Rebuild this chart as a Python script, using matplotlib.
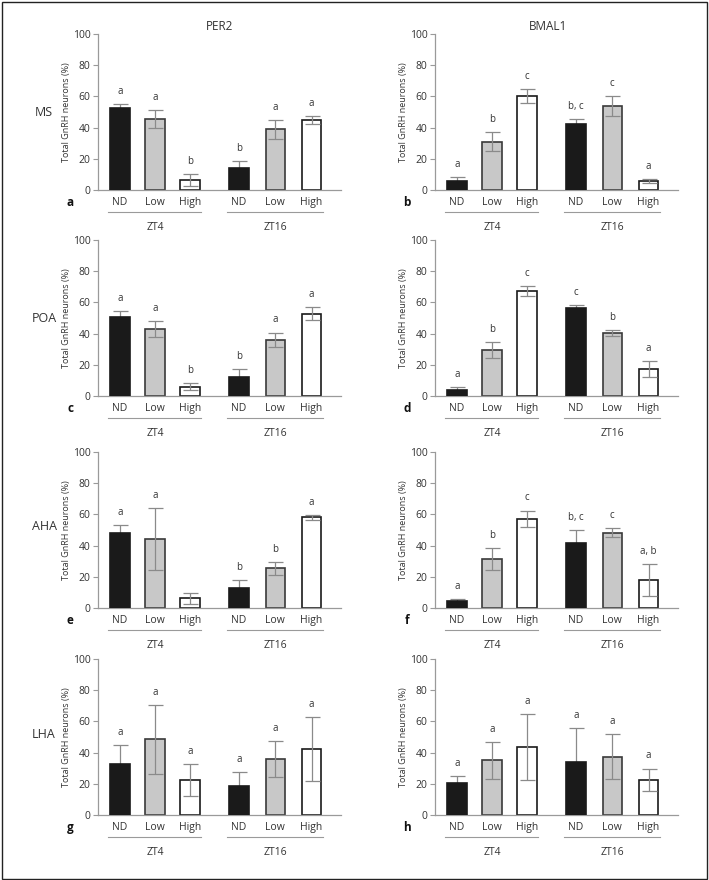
import matplotlib
matplotlib.use('Agg')
import matplotlib.pyplot as plt
from matplotlib.patches import Rectangle

plt.rcParams['font.family'] = ['Open Sans', 'DejaVu Sans']

# ---------------- data ----------------
bar_labels = ['ND', 'Low', 'High', 'ND', 'Low', 'High']
timepoints = ['ZT4', 'ZT16']
regions = ['MS', 'POA', 'AHA', 'LHA']
genes = ['PER2', 'BMAL1']
panel_letters = [['a', 'b'], ['c', 'd'], ['e', 'f'], ['g', 'h']]
y_ticks = [0, 20, 40, 60, 80, 100]

per2_ms = [52.5, 45.5, 6.2, 14.0, 39.0, 45.0]
per2_ms_err = [2.7, 6.0, 3.8, 4.7, 6.0, 2.5]
per2_ms_sig = ['a', 'a', 'b', 'b', 'a', 'a']

bmal1_ms = [5.8, 31.0, 60.0, 42.0, 54.0, 5.8]
bmal1_ms_err = [2.4, 6.3, 4.5, 3.4, 6.5, 1.5]
bmal1_ms_sig = ['a', 'b', 'c', 'b, c', 'c', 'a']

per2_poa = [50.6, 43.0, 5.9, 11.9, 36.2, 52.8]
per2_poa_err = [3.8, 5.0, 2.3, 5.3, 4.5, 4.0]
per2_poa_sig = ['a', 'a', 'b', 'b', 'a', 'a']

bmal1_poa = [4.0, 29.4, 67.2, 56.1, 40.3, 17.2]
bmal1_poa_err = [1.5, 5.0, 3.3, 2.1, 2.0, 5.0]
bmal1_poa_sig = ['a', 'b', 'c', 'c', 'b', 'a']

per2_aha = [48.2, 44.4, 6.3, 13.1, 25.4, 58.1]
per2_aha_err = [5.0, 20.0, 3.5, 4.6, 4.0, 1.6]
per2_aha_sig = ['a', 'a', '', 'b', 'b', 'a']

bmal1_aha = [4.2, 31.6, 57.1, 41.8, 48.2, 18.0]
bmal1_aha_err = [1.3, 7.0, 5.4, 8.5, 2.8, 10.0]
bmal1_aha_sig = ['a', 'b', 'c', 'b, c', 'c', 'a, b']

per2_lha = [33.0, 48.5, 22.4, 18.6, 36.0, 42.3]
per2_lha_err = [12.0, 22.0, 10.4, 9.0, 11.5, 20.4]
per2_lha_sig = ['a', 'a', 'a', 'a', 'a', 'a']

bmal1_lha = [20.2, 35.0, 43.7, 33.8, 37.4, 22.5]
bmal1_lha_err = [4.5, 12.0, 21.0, 22.0, 14.6, 7.3]
bmal1_lha_sig = ['a', 'a', 'a', 'a', 'a', 'a']

values = [[per2_ms, bmal1_ms], [per2_poa, bmal1_poa], [per2_aha, bmal1_aha], [per2_lha, bmal1_lha]]
errors = [[per2_ms_err, bmal1_ms_err], [per2_poa_err, bmal1_poa_err],
          [per2_aha_err, bmal1_aha_err], [per2_lha_err, bmal1_lha_err]]
sigs = [[per2_ms_sig, bmal1_ms_sig], [per2_poa_sig, bmal1_poa_sig],
        [per2_aha_sig, bmal1_aha_sig], [per2_lha_sig, bmal1_lha_sig]]

# ---------------- style ----------------
W, H = 709, 880
fig = plt.figure(figsize=(W / 100, H / 100), dpi=100)

xpos = [0, 1, 2, 3.4, 4.43, 5.47]
fills = ['#1a1a1a', '#c8c8c8', '#ffffff'] * 2
edges = ['#1a1a1a', '#3a3a3a', '#1a1a1a'] * 2
spine_col = '#9a9a9a'
txt_col = '#333333'
err_col = '#8a8a8a'

col_left = [98, 435]
col_width = 243
row_top = [34, 240, 452, 659]
ax_h = 156

for r in range(4):
    for c in range(2):
        left = col_left[c] / W
        bottom = 1 - (row_top[r] + ax_h) / H
        ax = fig.add_axes([left, bottom, col_width / W, ax_h / H])
        vals = values[r][c]
        errs = errors[r][c]
        sg = sigs[r][c]
        for i in range(6):
            z = 3 if i % 3 == 0 else 1
            ax.bar(xpos[i], vals[i], width=0.55, color=fills[i], edgecolor=edges[i],
                   linewidth=1.2, zorder=z)
        ax.errorbar(xpos, vals, yerr=errs, fmt='none', ecolor=err_col, elinewidth=0.9,
                    capsize=5.4, capthick=0.9, zorder=2)
        for i in range(6):
            if sg[i]:
                ax.text(xpos[i], vals[i] + errs[i] + 4.5, sg[i], ha='center', va='bottom',
                        fontsize=7, color=txt_col)
        ax.set_xlim(-0.63, 6.31)
        ax.set_ylim(0, 100)
        ax.set_yticks(y_ticks)
        ax.set_xticks(xpos)
        ax.set_xticklabels(bar_labels)
        ax.tick_params(axis='x', length=0, pad=5, labelsize=7.5, labelcolor=txt_col)
        ax.tick_params(axis='y', length=3.5, width=0.8, color=spine_col, pad=2,
                       labelsize=7.5, labelcolor=txt_col)
        for s in ['top', 'right']:
            ax.spines[s].set_visible(False)
        for s in ['left', 'bottom']:
            ax.spines[s].set_color(spine_col)
            ax.spines[s].set_linewidth(0.9)
        ax.set_ylabel('Total GnRH neurons (%)', fontsize=6.5, color=txt_col, labelpad=1)
        tr = ax.get_xaxis_transform()
        for g, (a0, a1) in enumerate([(0, 2), (3, 5)]):
            ax.plot([xpos[a0] - 0.34, xpos[a1] + 0.32], [-22 / ax_h, -22 / ax_h],
                    transform=tr, color=spine_col, linewidth=0.8, clip_on=False)
            ax.text(xpos[a0 + 1], -37 / ax_h, timepoints[g], transform=tr, ha='center',
                    va='center', fontsize=7.5, color=txt_col)
        ax.text(-28 / col_width, -12 / ax_h, panel_letters[r][c], transform=ax.transAxes,
                ha='center', va='center', fontsize=8.5, fontweight='bold', color='#111111')

# row labels
row_label_y = [113, 318, 527, 734]
for r in range(4):
    fig.text(44 / W, 1 - row_label_y[r] / H, regions[r], ha='center', va='center',
             fontsize=9, color=txt_col)

# column titles
fig.text(220 / W, 1 - 27 / H, genes[0], ha='center', va='center', fontsize=8.5, color=txt_col)
fig.text(548 / W, 1 - 27 / H, genes[1], ha='center', va='center', fontsize=8.5, color=txt_col)

# outer frame
fig.patches.append(Rectangle((1.5 / W, 1.5 / H), (W - 4) / W, (H - 4) / H,
                             transform=fig.transFigure, fill=False,
                             edgecolor='#222222', linewidth=1.0))

fig.savefig('out.png', dpi=100)
